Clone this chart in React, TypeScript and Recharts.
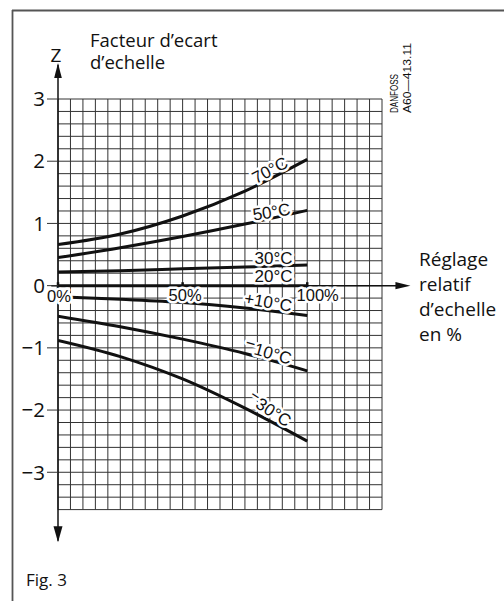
import { LineChart, Line, XAxis, YAxis, ReferenceLine, ReferenceDot } from "recharts";

// relative scale setting (%) and Z factor for each temperature
const settings = [0, 25, 50, 75, 100];
const z70 = [0.66, 0.83, 1.12, 1.52, 2.03];
const z50 = [0.45, 0.61, 0.79, 0.99, 1.21];
const z30 = [0.22, 0.24, 0.27, 0.3, 0.33];
const z20 = [0, 0, 0, 0, 0];
const zP10 = [-0.18, -0.22, -0.27, -0.36, -0.48];
const zM10 = [-0.49, -0.66, -0.86, -1.09, -1.37];
const zM30 = [-0.88, -1.14, -1.5, -1.97, -2.5];

const seriesKeys = ["t70", "t50", "t30", "t20", "tp10", "tm10", "tm30"];
const seriesValues = [z70, z50, z30, z20, zP10, zM10, zM30];
const curveLabels = ["70°C", "50°C", "30°C", "20°C", "+10°C", "−10°C", "−30°C"];

const yTicks = [3, 2, 1, 0, -1, -2, -3];
const xTickValues = [0, 50, 100];
const xTickLabels = ["0%", "50%", "100%"];

const data = settings.map((x, i) => {
  const row: Record<string, number> = { x };
  seriesKeys.forEach((k, j) => (row[k] = seriesValues[j][i]));
  return row;
});

// grid every 5 % and every 0.2 Z
const gridX: number[] = [];
for (let v = 0; v <= 130; v += 5) gridX.push(v);
const gridY: number[] = [];
for (let i = -18; i <= 15; i++) gridY.push(i / 5);

// label anchor points (data coords) and rotation
const labelPos = [
  { x: 85.1, y: 1.85, angle: -28 },
  { x: 85.7, y: 1.18, angle: -9 },
  { x: 86.5, y: 0.44, angle: 0 },
  { x: 86.5, y: 0.14, angle: 0 },
  { x: 84.3, y: -0.27, angle: 10 },
  { x: 84.3, y: -1.07, angle: 16 },
  { x: 84.9, y: -1.99, angle: 33 },
];
const xTickLabelPos = [
  { x: 0.4, y: -0.16 },
  { x: 51, y: -0.155 },
  { x: 104.2, y: -0.155 },
];

const INK = "#111";
const GRID = "#333";
const SANS = "'Open Sans', 'Noto Sans', sans-serif";
const HELV = "'Liberation Sans', Arial, sans-serif";

function textShape(text: string, angle: number, size: number) {
  return (p: any) => {
    const neg = text.startsWith("−");
    return (
      <text
        x={p.cx}
        y={p.cy}
        transform={`rotate(${angle} ${p.cx} ${p.cy})`}
        textAnchor="middle"
        dominantBaseline="central"
        fontFamily={HELV}
        fontSize={size}
        fill={INK}
        stroke="#fff"
        strokeWidth={5}
        paintOrder="stroke"
        strokeLinejoin="round"
      >
        {neg ? (
          <>
            <tspan dy={-4}>−</tspan>
            <tspan dy={4}>{text.slice(1)}</tspan>
          </>
        ) : (
          text
        )}
      </text>
    );
  };
}

function arrowShape(dir: "up" | "down" | "right") {
  return (p: any) => {
    const { cx, cy } = p;
    let d = "";
    if (dir === "up") d = `M${cx} ${cy} L${cx - 3.8} ${cy + 15} L${cx + 3.8} ${cy + 15} Z`;
    if (dir === "down") d = `M${cx} ${cy} L${cx - 4.5} ${cy - 16} L${cx + 4.5} ${cy - 16} Z`;
    if (dir === "right") d = `M${cx} ${cy} L${cx - 15} ${cy - 3.6} L${cx - 15} ${cy + 3.6} Z`;
    return <path d={d} fill={INK} />;
  };
}

export default function App() {
  return (
    <div style={{ position: "absolute", left: 0, top: 0, width: 504, height: 601, background: "#fff" }}>
      <LineChart width={504} height={601} data={data} margin={{ top: 99, right: 122, bottom: 91.4, left: 0 }}>
        <XAxis type="number" dataKey="x" domain={[0, 130]} allowDataOverflow hide />
        <YAxis
          type="number"
          domain={[-3.6, 3]}
          allowDataOverflow
          ticks={yTicks}
          interval={0}
          width={58}
          axisLine={false}
          tickSize={11}
          tickMargin={2}
          tickLine={{ stroke: GRID, strokeWidth: 1 }}
          tick={{ fill: INK, fontSize: 20.5, fontFamily: SANS }}
          tickFormatter={(v: number) => (v < 0 ? `−${-v}` : `${v}`)}
        />
        {gridX.map((v) => (
          <ReferenceLine key={"gx" + v} x={v} stroke={GRID} strokeWidth={1} ifOverflow="visible" />
        ))}
        {gridY.map((v) => (
          <ReferenceLine key={"gy" + v} y={v} stroke={GRID} strokeWidth={1} ifOverflow="visible" />
        ))}
        {/* axes */}
        <ReferenceLine segment={[{ x: 0, y: 3.55 }, { x: 0, y: -4.1 }]} stroke={INK} strokeWidth={1.5} ifOverflow="visible" />
        <ReferenceLine segment={[{ x: -2.7, y: 0 }, { x: 136, y: 0 }]} stroke={INK} strokeWidth={1.5} ifOverflow="visible" />
        {xTickValues.map((v) => (
          <ReferenceLine key={"xt" + v} segment={[{ x: v, y: 0.055 }, { x: v, y: -0.055 }]} stroke={INK} strokeWidth={2.5} ifOverflow="visible" />
        ))}
        <ReferenceDot x={0} y={3.58} ifOverflow="visible" shape={arrowShape("up")} />
        <ReferenceDot x={0} y={-4.125} ifOverflow="visible" shape={arrowShape("down")} />
        <ReferenceDot x={141.4} y={0} ifOverflow="visible" shape={arrowShape("right")} />

        {seriesKeys.map((k) => (
          <Line
            key={k}
            type="monotone"
            dataKey={k}
            stroke={INK}
            strokeWidth={3}
            dot={false}
            activeDot={false}
            isAnimationActive={false}
          />
        ))}

        {xTickLabels.map((t, i) => (
          <ReferenceDot key={"xl" + i} x={xTickLabelPos[i].x} y={xTickLabelPos[i].y} ifOverflow="visible" shape={textShape(t, 0, 16.5)} />
        ))}
        {curveLabels.map((t, i) => (
          <ReferenceDot key={"cl" + i} x={labelPos[i].x} y={labelPos[i].y} ifOverflow="visible" shape={textShape(t, labelPos[i].angle, 17)} />
        ))}
      </LineChart>

      <svg width={504} height={601} style={{ position: "absolute", left: 0, top: 0, pointerEvents: "none" }}>
        <line x1={12} y1={10.5} x2={504} y2={10.5} stroke="#555" strokeWidth={1.8} />
        <line x1={12.5} y1={10} x2={12.5} y2={601} stroke="#555" strokeWidth={1.8} />
        <text x={56} y={62} textAnchor="middle" fontFamily={SANS} fontSize={19} fill={INK}>Z</text>
        <text fontFamily={SANS} fontSize={18.5} fill={INK}>
          <tspan x={90} y={46.5}>Facteur d’ecart</tspan>
          <tspan x={90} y={68.5}>d’echelle</tspan>
        </text>
        <text fontFamily={SANS} fontSize={19} fill={INK}>
          <tspan x={419} y={265.5}>Réglage</tspan>
          <tspan x={419} y={291}>relatif</tspan>
          <tspan x={419} y={316}>d’echelle</tspan>
          <tspan x={419} y={340.5}>en %</tspan>
        </text>
        <text x={26} y={586} fontFamily={SANS} fontSize={17} fill={INK}>Fig. 3</text>
        <text x={398} y={113} transform="rotate(-90 398 113)" fontFamily={HELV} fontSize={10.5} fill={INK} textLength={39} lengthAdjust="spacingAndGlyphs">DANFOSS</text>
        <text x={410.5} y={113} transform="rotate(-90 410.5 113)" fontFamily={HELV} fontSize={10.5} fill={INK} textLength={70} lengthAdjust="spacingAndGlyphs">A60—413.11</text>
      </svg>
    </div>
  );
}
